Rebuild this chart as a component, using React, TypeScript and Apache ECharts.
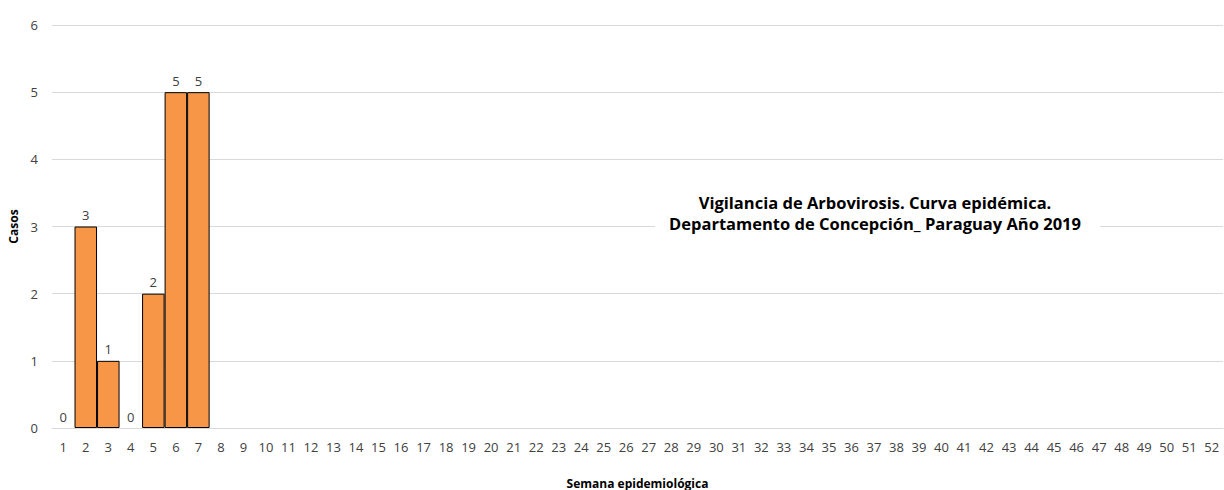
import React, { useEffect, useRef } from "react";
import * as echarts from "echarts";

const weeks: string[] = [
  "1","2","3","4","5","6","7","8","9","10","11","12","13","14","15","16","17","18","19","20",
  "21","22","23","24","25","26","27","28","29","30","31","32","33","34","35","36","37","38","39","40",
  "41","42","43","44","45","46","47","48","49","50","51","52",
];
const reportedCases: number[] = [0, 3, 1, 0, 2, 5, 5];
const yTicks = { min: 0, max: 6, interval: 1 };
const titleLines: string[] = [
  "Vigilancia de Arbovirosis. Curva epidémica.",
  "Departamento de Concepción_ Paraguay Año 2019",
];
const xName = "Semana epidemiológica";
const yName = "Casos";

const FONT = "'Open Sans', 'Noto Sans', sans-serif";

export default function App() {
  const ref = useRef<HTMLDivElement>(null);
  useEffect(() => {
    document.body.style.margin = "0";
    if (!ref.current) return;
    const chart = echarts.init(ref.current, undefined, { renderer: "svg" });
    const seriesData = weeks.map((_, i) => {
      if (i >= reportedCases.length) return null;
      const v = reportedCases[i];
      return v === 0 ? { value: v, itemStyle: { borderWidth: 0 } } : v;
    });
    const titleStyle = {
      fontFamily: FONT,
      fontWeight: "bold",
      fontSize: 16.5,
      lineHeight: 18,
      fill: "#000",
      textAlign: "center",
      textVerticalAlign: "middle",
    };
    chart.setOption({
      animation: false,
      textStyle: { fontFamily: FONT },
      grid: { left: 52, right: 1, top: 25, bottom: 62, containLabel: false, outerBoundsMode: "none" },
      xAxis: {
        type: "category",
        data: weeks,
        name: xName,
        nameLocation: "middle",
        nameGap: 49,
        nameTextStyle: { fontFamily: FONT, fontWeight: "bold", fontSize: 12, color: "#000" },
        axisLine: { show: true, lineStyle: { color: "#d9d9d9" } },
        axisTick: { show: false },
        axisLabel: { fontFamily: FONT, fontSize: 13, color: "#404040", margin: 12, interval: 0 },
      },
      yAxis: {
        type: "value",
        min: yTicks.min,
        max: yTicks.max,
        interval: yTicks.interval,
        name: yName,
        nameLocation: "middle",
        nameGap: 29,
        nameRotate: 90,
        nameTextStyle: { fontFamily: FONT, fontWeight: "bold", fontSize: 12, color: "#000" },
        axisLine: { show: false },
        axisTick: { show: false },
        splitLine: { lineStyle: { color: "#d9d9d9" } },
        axisLabel: { fontFamily: FONT, fontSize: 13, color: "#404040", margin: 14 },
      },
      series: [
        {
          type: "bar",
          data: seriesData,
          barGap: "0%",
          barCategoryGap: "0%",
          itemStyle: { color: "#F79646", borderColor: "#000", borderWidth: 1 },
          label: {
            show: true,
            position: "top",
            distance: 5,
            fontFamily: FONT,
            fontSize: 13,
            color: "#404040",
            formatter: (p: any) => (p.value === null || p.value === undefined ? "" : String(p.value)),
          },
        },
      ],
      graphic: [
        {
          type: "rect",
          z: 99,
          shape: { x: 655, y: 191, width: 445, height: 44 },
          style: { fill: "#fff" },
        },
        {
          type: "text",
          x: 875,
          y: 202,
          z: 100,
          style: { ...titleStyle, text: titleLines[0] },
        },
        {
          type: "text",
          x: 875,
          y: 223,
          z: 100,
          style: { ...titleStyle, text: titleLines[1] },
        },
      ],
    });
    return () => chart.dispose();
  }, []);
  return <div ref={ref} style={{ width: 1224, height: 490 }} />;
}
